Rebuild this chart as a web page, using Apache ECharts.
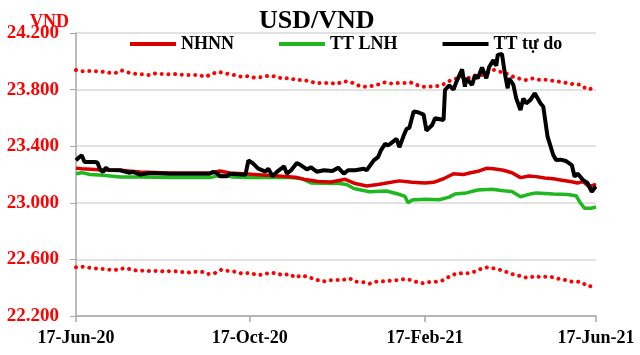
<!DOCTYPE html>
<html>
<head>
<meta charset="utf-8">
<script src="https://cdn.jsdelivr.net/npm/echarts@6/dist/echarts.min.js"></script>
<style>html,body{margin:0;padding:0;background:#fff}#c{width:640px;height:355px}</style>
</head>
<body>
<div id="c"></div>
<script>
// x values are days counted from 17-Jun-2020
var startDate = '2020-06-17';
var tickDates = ['2020-06-17', '2020-10-17', '2021-02-17', '2021-06-17'];
var tickLabels = ['17-Jun-20', '17-Oct-20', '17-Feb-21', '17-Jun-21'];
var yTicks = [22200, 22600, 23000, 23400, 23800, 24200];
var seriesNames = ['NHNN', 'TT LNH', 'TT tự do'];

var nhnn = [[0,23245],[4,23240],[19,23232],[31,23230],[45,23218],[66,23211],[94,23211],[101,23225],[108,23211],[120,23204],[142,23190],[154,23180],[161,23164],[170,23150],[179,23147],[189,23166],[196,23136],[204,23119],[212,23130],[218,23140],[227,23155],[236,23145],[245,23140],[251,23145],[258,23170],[265,23205],[272,23200],[277,23212],[283,23225],[288,23244],[293,23240],[300,23230],[306,23212],[312,23178],[318,23190],[323,23185],[329,23175],[335,23170],[341,23160],[347,23150],[352,23140],[356,23150],[360,23115],[365,23130]];

var lnh = [[0,23206],[4,23213],[10,23200],[19,23194],[31,23182],[45,23182],[66,23178],[94,23178],[101,23194],[106,23192],[110,23182],[120,23178],[150,23178],[158,23172],[165,23140],[175,23138],[185,23136],[190,23130],[195,23101],[206,23078],[218,23083],[226,23062],[231,23045],[233,23000],[236,23020],[245,23025],[255,23022],[262,23040],[266,23062],[274,23070],[282,23090],[292,23095],[300,23085],[306,23080],[312,23043],[318,23060],[323,23070],[335,23062],[345,23058],[351,23050],[354,23000],[357,22961],[362,22962],[365,22970]];

var tuDo = [[0,23300],[2,23320],[4,23335],[6,23288],[13,23288],[15,23285],[17,23234],[19,23218],[21,23248],[23,23232],[31,23230],[37,23213],[40,23218],[45,23199],[52,23210],[66,23206],[78,23206],[94,23206],[96,23218],[99,23210],[101,23187],[106,23187],[108,23206],[119,23199],[121,23300],[124,23280],[128,23241],[133,23220],[135,23241],[138,23188],[141,23218],[144,23241],[146,23258],[148,23206],[151,23230],[155,23281],[158,23265],[162,23236],[165,23250],[169,23220],[174,23230],[180,23225],[184,23248],[188,23206],[191,23230],[196,23230],[202,23241],[204,23230],[209,23300],[212,23323],[214,23370],[217,23417],[219,23405],[221,23420],[225,23452],[227,23393],[230,23475],[232,23522],[234,23530],[237,23646],[240,23640],[244,23623],[246,23510],[250,23550],[252,23597],[258,23585],[259,23797],[262,23830],[265,23800],[267,23855],[271,23943],[273,23820],[274,23880],[278,23833],[280,23900],[282,23880],[285,23957],[288,23880],[290,23960],[293,24009],[295,23968],[296,24045],[299,24052],[301,23915],[303,23809],[304,23880],[307,23833],[309,23738],[312,23656],[314,23738],[316,23703],[319,23727],[322,23774],[326,23703],[328,23679],[331,23467],[335,23338],[337,23302],[340,23305],[344,23295],[348,23267],[350,23184],[352,23207],[356,23160],[359,23140],[362,23078],[364,23105],[365,23115]];

var ceilingBand = [[0,23938],[4,23930],[8,23932],[13,23930],[18,23928],[22,23920],[27,23915],[32,23935],[36,23922],[41,23912],[46,23908],[51,23903],[56,23915],[61,23910],[66,23908],[71,23910],[76,23903],[81,23903],[86,23903],[91,23890],[95,23910],[100,23925],[105,23915],[110,23905],[115,23893],[120,23895],[125,23885],[130,23888],[135,23898],[140,23893],[145,23878],[150,23882],[155,23865],[159,23870],[164,23858],[169,23846],[174,23846],[179,23846],[183,23840],[188,23858],[193,23853],[197,23832],[202,23820],[207,23825],[211,23832],[216,23851],[221,23843],[226,23846],[231,23846],[235,23850],[240,23830],[244,23820],[249,23822],[254,23825],[259,23842],[262,23860],[266,23875],[271,23890],[275,23880],[280,23900],[284,23900],[289,23920],[293,23940],[298,23925],[303,23910],[307,23890],[312,23875],[316,23868],[321,23880],[325,23870],[330,23870],[335,23862],[340,23855],[345,23845],[349,23838],[354,23835],[359,23800],[364,23812]];

var floorBand = [[0,22544],[6,22549],[10,22540],[15,22535],[20,22532],[25,22525],[30,22527],[34,22539],[39,22528],[44,22518],[48,22522],[53,22516],[58,22520],[62,22514],[67,22518],[72,22514],[78,22506],[83,22512],[88,22514],[92,22497],[97,22500],[102,22527],[107,22518],[111,22514],[117,22499],[122,22505],[127,22490],[131,22492],[136,22506],[141,22502],[145,22488],[150,22497],[154,22471],[158,22488],[163,22475],[168,22459],[173,22443],[178,22452],[183,22455],[187,22454],[192,22466],[196,22443],[201,22440],[206,22428],[211,22443],[215,22445],[219,22448],[224,22452],[229,22459],[233,22460],[238,22443],[244,22431],[248,22440],[252,22441],[257,22450],[260,22468],[264,22488],[267,22500],[271,22502],[275,22503],[280,22514],[284,22532],[289,22544],[294,22535],[298,22525],[303,22508],[308,22490],[312,22482],[317,22469],[323,22483],[326,22473],[330,22478],[334,22475],[338,22464],[342,22458],[347,22443],[351,22445],[355,22436],[360,22407],[364,22419]];

function dayOf(s) {
  var p = s.split('-'), q = startDate.split('-');
  return Math.round((Date.UTC(+p[0], +p[1] - 1, +p[2]) - Date.UTC(+q[0], +q[1] - 1, +q[2])) / 86400000);
}
var tickDays = tickDates.map(dayOf);

var serif = "'Liberation Serif','Times New Roman',serif";
var chart = echarts.init(document.getElementById('c'), null, {renderer: 'canvas'});

var dotted = {type: [0.01, 6.7], width: 4, color: '#ff0000', cap: 'round'};

chart.setOption({
  animation: false,
  backgroundColor: '#ffffff',
  title: [
    {text: 'USD/VND', left: 254, top: 3, textStyle: {fontFamily: serif, fontSize: 26, fontWeight: 'bold', color: '#000'}},
    {text: 'VND', left: 25, top: 8, textStyle: {fontFamily: serif, fontSize: 18, fontWeight: 'bold', color: '#ff0000'}}
  ],
  legend: {
    data: seriesNames,
    left: 125, top: 30,
    icon: 'rect',
    itemWidth: 46, itemHeight: 4, itemGap: 45,
    textStyle: {fontFamily: serif, fontSize: 18, fontWeight: 'bold', color: '#000'}
  },
  grid: {left: 76, right: 44, top: 33, bottom: 39, containLabel: false},
  xAxis: {
    type: 'value', min: tickDays[0], max: tickDays[tickDays.length - 1],
    axisLine: {show: true, lineStyle: {color: '#a6a6a6', width: 1.5}},
    axisTick: {show: true, length: 6, customValues: tickDays, lineStyle: {color: '#a6a6a6', width: 1.5}},
    axisLabel: {
      customValues: tickDays, margin: 13,
      fontFamily: serif, fontSize: 18, fontWeight: 'bold', color: '#000',
      formatter: function (v) { var i = tickDays.indexOf(Math.round(v)); return i >= 0 ? tickLabels[i] : ''; }
    },
    splitLine: {show: false}
  },
  yAxis: {
    type: 'value', min: yTicks[0], max: yTicks[yTicks.length - 1], interval: 400,
    axisLine: {show: true, lineStyle: {color: '#a6a6a6', width: 1.5}},
    axisTick: {show: true, length: 6, lineStyle: {color: '#a6a6a6', width: 1}},
    axisLabel: {
      margin: 17, fontFamily: serif, fontSize: 19, fontWeight: 'bold', color: '#ff0000',
      formatter: function (v) { return (v / 1000).toFixed(3); }
    },
    splitLine: {show: true, lineStyle: {color: '#d9d9d9', width: 1.5}}
  },
  series: [
    {name: 'ceiling', type: 'line', data: ceilingBand, showSymbol: false, lineStyle: dotted, z: 1, silent: true},
    {name: 'floor', type: 'line', data: floorBand, showSymbol: false, lineStyle: dotted, z: 1, silent: true},
    {name: seriesNames[1], type: 'line', data: lnh, showSymbol: false, color: '#1fb81f', lineStyle: {width: 3.5, color: '#1fb81f'}, z: 2},
    {name: seriesNames[0], type: 'line', data: nhnn, showSymbol: false, color: '#d60000', lineStyle: {width: 3.5, color: '#d60000'}, z: 3},
    {name: seriesNames[2], type: 'line', data: tuDo, showSymbol: false, color: '#000000', lineStyle: {width: 4, color: '#000000'}, z: 4}
  ]
});
</script>
</body>
</html>
